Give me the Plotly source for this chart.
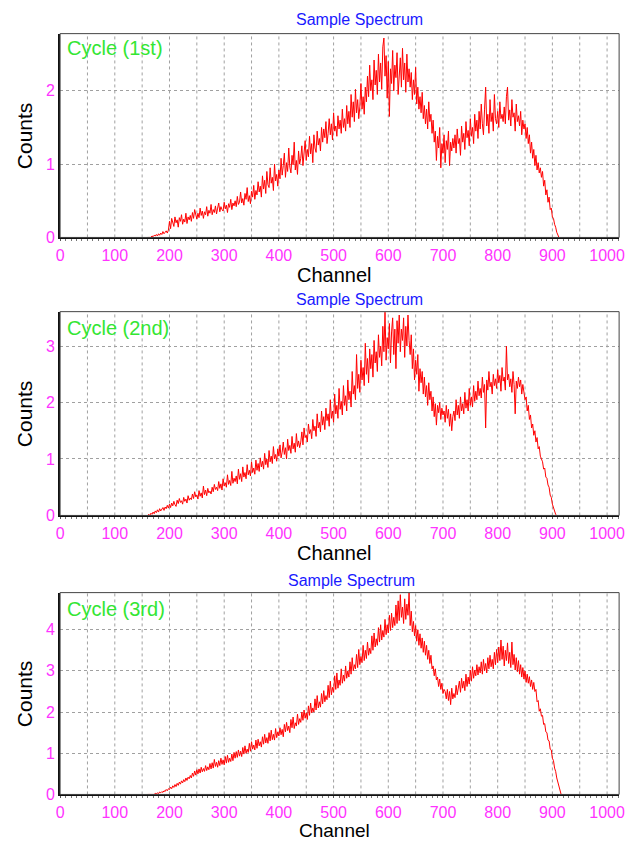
import plotly.graph_objects as go

# Spectra are listed every 2 channels, starting at channel 160
CH_START = 160
CH_STEP = 2

counts_1st = [
    0.00, 0.00, 0.01, 0.00, 0.02, 0.01, 0.03, 0.02, 0.04, 0.02, 0.05, 0.03, 0.06, 0.04, 0.08, 0.05, 0.07, 0.09, 0.06, 0.10,
    0.22, 0.12, 0.26, 0.18, 0.15, 0.28, 0.20, 0.24, 0.14, 0.27, 0.22, 0.31, 0.18, 0.25, 0.21, 0.33, 0.19, 0.28, 0.24, 0.30,
    0.22, 0.34, 0.26, 0.38, 0.29, 0.25, 0.33, 0.27, 0.40, 0.30, 0.36, 0.26, 0.35, 0.31, 0.42, 0.29, 0.37, 0.33, 0.45, 0.31,
    0.38, 0.34, 0.43, 0.32, 0.40, 0.47, 0.35, 0.42, 0.38, 0.36, 0.48, 0.39, 0.44, 0.34, 0.46, 0.41, 0.52, 0.38, 0.47, 0.43,
    0.50, 0.42, 0.56, 0.45, 0.48, 0.62, 0.47, 0.53, 0.44, 0.60, 0.52, 0.68, 0.49, 0.57, 0.46, 0.63, 0.55, 0.71, 0.52, 0.64,
    0.58, 0.76, 0.62, 0.70, 0.55, 0.84, 0.66, 0.78, 0.60, 0.90, 0.72, 0.68, 0.95, 0.74, 0.82, 0.64, 1.00, 0.77, 0.86, 0.70,
    0.92, 0.80, 1.08, 0.85, 0.98, 1.15, 0.82, 1.02, 0.90, 1.22, 0.96, 0.88, 1.12, 0.99, 1.30, 0.92, 1.05, 0.86, 1.18, 1.00,
    1.08, 1.25, 0.98, 1.15, 1.32, 1.05, 1.20, 1.10, 1.38, 1.14, 1.28, 1.02, 1.40, 1.22, 1.16, 1.45, 1.26, 1.35, 1.18, 1.50,
    1.30, 1.48, 1.36, 1.58, 1.28, 1.42, 1.62, 1.40, 1.55, 1.33, 1.70, 1.45, 1.52, 1.38, 1.66, 1.48, 1.60, 1.42, 1.75, 1.50,
    1.62, 1.45, 1.80, 1.55, 1.72, 1.50, 1.95, 1.64, 1.85, 1.58, 2.02, 1.70, 1.88, 1.62, 1.78, 2.10, 1.75, 1.92, 1.68, 2.05,
    1.85, 2.20, 1.92, 2.35, 2.00, 2.15, 1.88, 2.42, 2.08, 2.28, 1.95, 2.50, 2.12, 2.38, 2.02, 2.60, 2.72, 2.20, 2.48, 1.90,
    2.40, 1.65, 2.30, 2.10, 2.55, 2.00, 2.35, 2.18, 2.52, 1.95, 2.28, 2.45, 2.05, 2.58, 2.15, 2.38, 1.98, 2.50, 2.12, 2.30,
    2.05, 2.25, 1.88, 2.15, 1.95, 2.32, 1.82, 2.05, 1.75, 1.92, 1.70, 1.98, 1.62, 1.80, 1.55, 1.75, 1.48, 1.85, 1.58, 1.68,
    1.42, 1.60, 1.30, 1.45, 1.05, 1.38, 1.22, 1.50, 0.95, 1.28, 1.15, 1.40, 1.02, 1.32, 1.20, 1.45, 0.98, 1.30, 1.18, 1.35,
    1.22, 1.40, 1.15, 1.48, 1.28, 1.35, 1.12, 1.52, 1.30, 1.42, 1.20, 1.58, 1.36, 1.46, 1.25, 1.62, 1.38, 1.50, 1.28, 1.68,
    1.45, 1.60, 1.35, 1.72, 1.48, 1.82, 1.55, 1.40, 1.75, 2.05, 1.52, 1.68, 1.42, 1.88, 1.58, 1.70, 1.45, 1.95, 1.62, 1.55,
    1.72, 1.50, 1.85, 1.62, 1.68, 1.58, 1.78, 1.55, 1.92, 2.05, 1.60, 1.74, 1.52, 1.88, 1.64, 1.70, 1.45, 1.82, 1.58, 1.66,
    1.52, 1.72, 1.40, 1.60, 1.48, 1.55, 1.35, 1.50, 1.28, 1.40, 1.15, 1.30, 1.08, 1.20, 0.98, 1.12, 0.92, 1.02, 0.88, 0.95,
    0.82, 0.90, 0.70, 0.78, 0.58, 0.65, 0.48, 0.55, 0.38, 0.40, 0.28, 0.26, 0.18, 0.14, 0.07, 0.04, 0.00,
]

counts_2nd = [
    0.00, 0.02, 0.00, 0.04, 0.02, 0.06, 0.03, 0.08, 0.05, 0.10, 0.06, 0.12, 0.08, 0.11, 0.14, 0.09, 0.15, 0.12, 0.18, 0.13,
    0.20, 0.14, 0.22, 0.17, 0.25, 0.19, 0.16, 0.27, 0.21, 0.30, 0.23, 0.26, 0.20, 0.32, 0.25, 0.29, 0.22, 0.35, 0.27, 0.31,
    0.28, 0.38, 0.30, 0.42, 0.33, 0.36, 0.29, 0.44, 0.34, 0.40, 0.31, 0.52, 0.37, 0.45, 0.35, 0.48, 0.40, 0.43, 0.38, 0.50,
    0.42, 0.55, 0.46, 0.50, 0.44, 0.60, 0.48, 0.56, 0.45, 0.65, 0.52, 0.58, 0.50, 0.72, 0.55, 0.62, 0.53, 0.78, 0.57, 0.66,
    0.60, 0.70, 0.56, 0.82, 0.64, 0.74, 0.60, 0.86, 0.68, 0.76, 0.65, 0.90, 0.72, 0.80, 0.70, 0.95, 0.76, 0.84, 0.73, 0.98,
    0.80, 0.92, 0.78, 1.02, 0.86, 0.96, 0.82, 1.10, 0.90, 1.00, 0.85, 1.15, 0.95, 1.05, 0.92, 1.22, 1.00, 1.08, 0.96, 1.18,
    1.05, 1.25, 1.02, 1.12, 1.30, 1.08, 1.20, 1.00, 1.35, 1.15, 1.24, 1.10, 1.40, 1.18, 1.28, 1.12, 1.45, 1.22, 1.32, 1.20,
    1.30, 1.48, 1.25, 1.55, 1.38, 1.42, 1.30, 1.62, 1.45, 1.52, 1.36, 1.70, 1.50, 1.58, 1.40, 1.80, 1.55, 1.65, 1.48, 1.85,
    1.60, 1.75, 1.52, 1.90, 1.68, 1.80, 1.58, 2.05, 1.72, 1.85, 1.65, 2.15, 1.80, 1.95, 1.72, 2.25, 1.88, 2.02, 1.78, 2.30,
    1.95, 2.12, 1.85, 2.40, 2.05, 2.20, 1.92, 2.55, 2.15, 2.30, 2.05, 2.85, 2.25, 2.50, 2.18, 2.75, 2.40, 2.62, 2.30, 3.05,
    2.50, 2.78, 2.35, 2.95, 2.60, 2.85, 2.45, 3.10, 2.70, 2.90, 2.55, 3.20, 2.80, 3.00, 2.65, 3.35, 2.90, 3.60, 2.75, 3.15,
    2.95, 3.40, 2.70, 3.25, 3.50, 2.85, 3.30, 2.60, 3.45, 3.05, 3.55, 2.90, 3.30, 3.10, 3.50, 2.80, 3.35, 3.00, 3.55, 3.10,
    2.85, 3.20, 2.60, 2.95, 2.40, 2.75, 2.50, 2.85, 2.20, 2.60, 2.35, 2.55, 2.15, 2.45, 2.10, 2.30, 1.95, 2.35, 2.05, 2.20,
    1.85, 2.10, 1.75, 1.98, 1.60, 1.95, 1.82, 2.00, 1.70, 1.90, 1.78, 1.85, 1.65, 1.95, 1.72, 1.88, 1.58, 1.80, 1.50, 1.75,
    1.85, 1.68, 2.05, 1.78, 1.95, 1.72, 2.10, 1.85, 1.98, 1.80, 2.18, 1.90, 2.05, 1.85, 2.25, 1.95, 2.10, 1.92, 2.30, 2.02,
    2.20, 2.05, 2.38, 2.12, 2.25, 2.08, 2.45, 2.18, 2.32, 1.55, 2.40, 2.22, 2.55, 2.28, 2.36, 2.15, 2.50, 2.30, 2.42, 2.25,
    2.58, 2.35, 2.48, 2.20, 2.62, 2.38, 2.45, 2.22, 3.00, 2.40, 2.50, 2.28, 2.42, 2.18, 2.55, 2.32, 1.80, 2.38, 2.25, 2.45,
    2.28, 2.40, 2.15, 2.32, 2.20, 2.05, 2.10, 1.85, 1.95, 1.70, 1.78, 1.55, 1.62, 1.42, 1.50, 1.30, 1.38, 1.18, 1.22, 1.05,
    1.00, 0.95, 0.82, 0.84, 0.68, 0.66, 0.54, 0.50, 0.36, 0.32, 0.20, 0.14, 0.05, 0.02, 0.00,
]

counts_3rd = [
    0.00, 0.00, 0.00, 0.00, 0.00, 0.01, 0.00, 0.03, 0.01, 0.04, 0.02, 0.06, 0.04, 0.07, 0.05, 0.09, 0.07, 0.12, 0.09, 0.14,
    0.12, 0.18, 0.14, 0.21, 0.17, 0.24, 0.19, 0.27, 0.22, 0.30, 0.25, 0.33, 0.28, 0.36, 0.31, 0.40, 0.34, 0.42, 0.38, 0.46,
    0.40, 0.52, 0.44, 0.57, 0.47, 0.60, 0.50, 0.62, 0.52, 0.66, 0.55, 0.63, 0.56, 0.70, 0.58, 0.67, 0.60, 0.75, 0.62, 0.77,
    0.64, 0.85, 0.68, 0.78, 0.66, 0.82, 0.70, 0.88, 0.73, 0.84, 0.72, 0.92, 0.76, 0.95, 0.78, 0.88, 0.80, 0.98, 0.82, 1.02,
    0.88, 1.04, 0.90, 1.08, 0.93, 1.05, 0.92, 1.14, 0.98, 1.18, 1.00, 1.10, 1.02, 1.24, 1.05, 1.28, 1.10, 1.20, 1.08, 1.32,
    1.12, 1.34, 1.18, 1.28, 1.15, 1.40, 1.22, 1.46, 1.25, 1.38, 1.24, 1.50, 1.30, 1.56, 1.33, 1.46, 1.32, 1.60, 1.38, 1.52,
    1.42, 1.62, 1.45, 1.58, 1.40, 1.70, 1.52, 1.75, 1.55, 1.66, 1.50, 1.82, 1.62, 1.88, 1.60, 1.74, 1.66, 1.95, 1.70, 1.84,
    1.75, 2.00, 1.80, 2.05, 1.85, 1.98, 1.82, 2.15, 1.92, 2.22, 1.98, 2.10, 2.00, 2.32, 2.05, 2.40, 2.10, 2.25, 2.12, 2.45,
    2.20, 2.52, 2.25, 2.40, 2.30, 2.65, 2.35, 2.75, 2.42, 2.60, 2.48, 2.88, 2.55, 2.95, 2.58, 2.78, 2.65, 3.05, 2.70, 2.90,
    2.75, 3.12, 2.82, 3.00, 2.85, 3.22, 2.92, 3.32, 3.00, 3.15, 3.05, 3.40, 3.08, 3.52, 3.15, 3.35, 3.20, 3.62, 3.25, 3.50,
    3.30, 3.70, 3.38, 3.55, 3.42, 3.85, 3.50, 3.92, 3.58, 3.78, 3.62, 4.05, 3.70, 4.12, 3.75, 3.98, 3.82, 4.25, 3.88, 4.12,
    3.92, 4.35, 3.98, 4.40, 4.05, 4.30, 4.10, 4.60, 4.15, 4.70, 4.22, 4.85, 4.30, 4.55, 4.15, 4.75, 4.25, 4.62, 4.35, 4.90,
    4.10, 4.45, 3.95, 4.20, 3.85, 4.10, 3.72, 4.00, 3.62, 3.90, 3.55, 3.80, 3.45, 3.72, 3.38, 3.62, 3.28, 3.50, 3.18, 3.38,
    3.05, 3.12, 2.88, 3.05, 2.78, 2.85, 2.62, 2.80, 2.55, 2.70, 2.45, 2.55, 2.50, 2.32, 2.55, 2.28, 2.50, 2.18, 2.58, 2.32,
    2.45, 2.35, 2.65, 2.42, 2.58, 2.75, 2.48, 2.82, 2.58, 2.75, 2.52, 2.92, 2.62, 2.85, 2.68, 3.02, 2.75, 3.10, 2.82, 3.02,
    2.88, 3.15, 2.90, 3.10, 2.95, 3.22, 2.92, 3.28, 3.00, 3.18, 2.95, 3.32, 3.05, 3.38, 3.10, 3.28, 3.05, 3.45, 3.15, 3.52,
    3.20, 3.58, 3.25, 3.75, 3.28, 3.60, 3.12, 3.50, 3.25, 3.68, 3.18, 3.45, 3.08, 3.70, 3.15, 3.40, 3.02, 3.32, 2.98, 3.25,
    2.92, 3.15, 2.85, 3.08, 2.80, 3.00, 2.72, 2.92, 2.70, 2.86, 2.62, 2.78, 2.55, 2.72, 2.50, 2.55, 2.25, 2.28, 2.02, 2.08,
    1.90, 1.92, 1.70, 1.72, 1.52, 1.50, 1.32, 1.30, 1.10, 1.08, 0.88, 0.82, 0.64, 0.56, 0.40, 0.30, 0.16, 0.07, 0.00,
]

panel_labels = ["Cycle (1st)", "Cycle (2nd)", "Cycle (3rd)"]
y_tops = [2.78, 3.61, 4.9]
x_ticks = [0, 100, 200, 300, 400, 500, 600, 700, 800, 900, 1000]

W, H = 632, 845
# plot-area pixel boxes: (left, top, right, bottom)
boxes = [(57, 34, 625, 240), (57, 315, 625, 521), (57, 599, 625, 803)]
title_y = [20, 303, 587]
title_x = [361, 361, 353]
cycle_y = [49, 332, 616]
channel_y = [278, 559, 839]
channel_size = [20, 20, 19]

series = [counts_1st, counts_2nd, counts_3rd]

fig = go.Figure()
MAGENTA = "#ff33ff"
GRID = "#a0a0a0"
FONT = "Liberation Sans, Arial, sans-serif"

for i, vals in enumerate(series):
    n = i + 1
    xs = [CH_START + CH_STEP * k for k in range(len(vals))]
    xa = "x" if n == 1 else f"x{n}"
    ya = "y" if n == 1 else f"y{n}"
    fig.add_trace(go.Scatter(
        x=xs, y=vals, mode="lines", xaxis=xa, yaxis=ya,
        line=dict(color="#ff0000", width=1), showlegend=False,
        hoverinfo="skip",
    ))
    l, t, r, b = boxes[i]
    xkey = "xaxis" if n == 1 else f"xaxis{n}"
    ykey = "yaxis" if n == 1 else f"yaxis{n}"
    fig.update_layout(**{
        xkey: dict(
            domain=[l / W, r / W], anchor=ya, range=[0, 1022],
            tickvals=x_ticks, ticktext=[str(v) for v in x_ticks],
            tickfont=dict(color=MAGENTA, size=16, family=FONT),
            ticks="outside", ticklen=2, tickcolor="#555555",
            showline=True, linecolor="#111111", linewidth=2,
            showgrid=False, zeroline=False,
            minor=dict(dtick=10, ticks="outside", ticklen=2,
                       tickcolor="#777777", showgrid=False),
        ),
        ykey: dict(
            domain=[1 - b / H, 1 - t / H], anchor=xa, range=[0, y_tops[i]],
            dtick=1, tickfont=dict(color=MAGENTA, size=16, family=FONT),
            ticks="", showline=True, linecolor="#111111", linewidth=2,
            showgrid=True, gridcolor=GRID, griddash="3px,3px", gridwidth=1,
            zeroline=False,
        ),
    })
    # vertical dashed grid every 50 channels
    for gx in range(50, 1001, 50):
        fig.add_shape(type="line", xref=xa, yref=f"{ya} domain",
                      x0=gx, x1=gx, y0=0, y1=1,
                      line=dict(color=GRID, width=1, dash="3px,3px"),
                      layer="below")
    # thin frame on top/right
    fig.add_shape(type="rect", xref="paper", yref="paper",
                  x0=l / W, x1=r / W, y0=1 - b / H, y1=1 - t / H,
                  line=dict(color="#444444", width=1), layer="above")
    fig.add_annotation(text="Sample Spectrum", xref="paper", yref="paper",
                       x=title_x[i] / W, y=1 - title_y[i] / H,
                       showarrow=False, xanchor="center", yanchor="middle",
                       font=dict(color="#1a1aff", size=16, family=FONT))
    fig.add_annotation(text=panel_labels[i], xref="paper", yref="paper",
                       x=62 / W, y=1 - cycle_y[i] / H,
                       showarrow=False, xanchor="left", yanchor="middle",
                       font=dict(color="#33e633", size=20, family=FONT))
    fig.add_annotation(text="Channel", xref="paper", yref="paper",
                       x=336 / W, y=1 - channel_y[i] / H,
                       showarrow=False, xanchor="center", yanchor="middle",
                       font=dict(color="#000000", size=channel_size[i],
                                 family=FONT))
    fig.add_annotation(text="Counts", xref="paper", yref="paper",
                       x=21 / W, y=1 - ((t + b) / 2) / H, textangle=-90,
                       showarrow=False, xanchor="center", yanchor="middle",
                       font=dict(color="#000000", size=21, family=FONT))

fig.update_layout(
    width=W, height=H, margin=dict(l=0, r=0, t=0, b=0),
    paper_bgcolor="#ffffff", plot_bgcolor="#ffffff",
)

fig.write_html("out.html")
